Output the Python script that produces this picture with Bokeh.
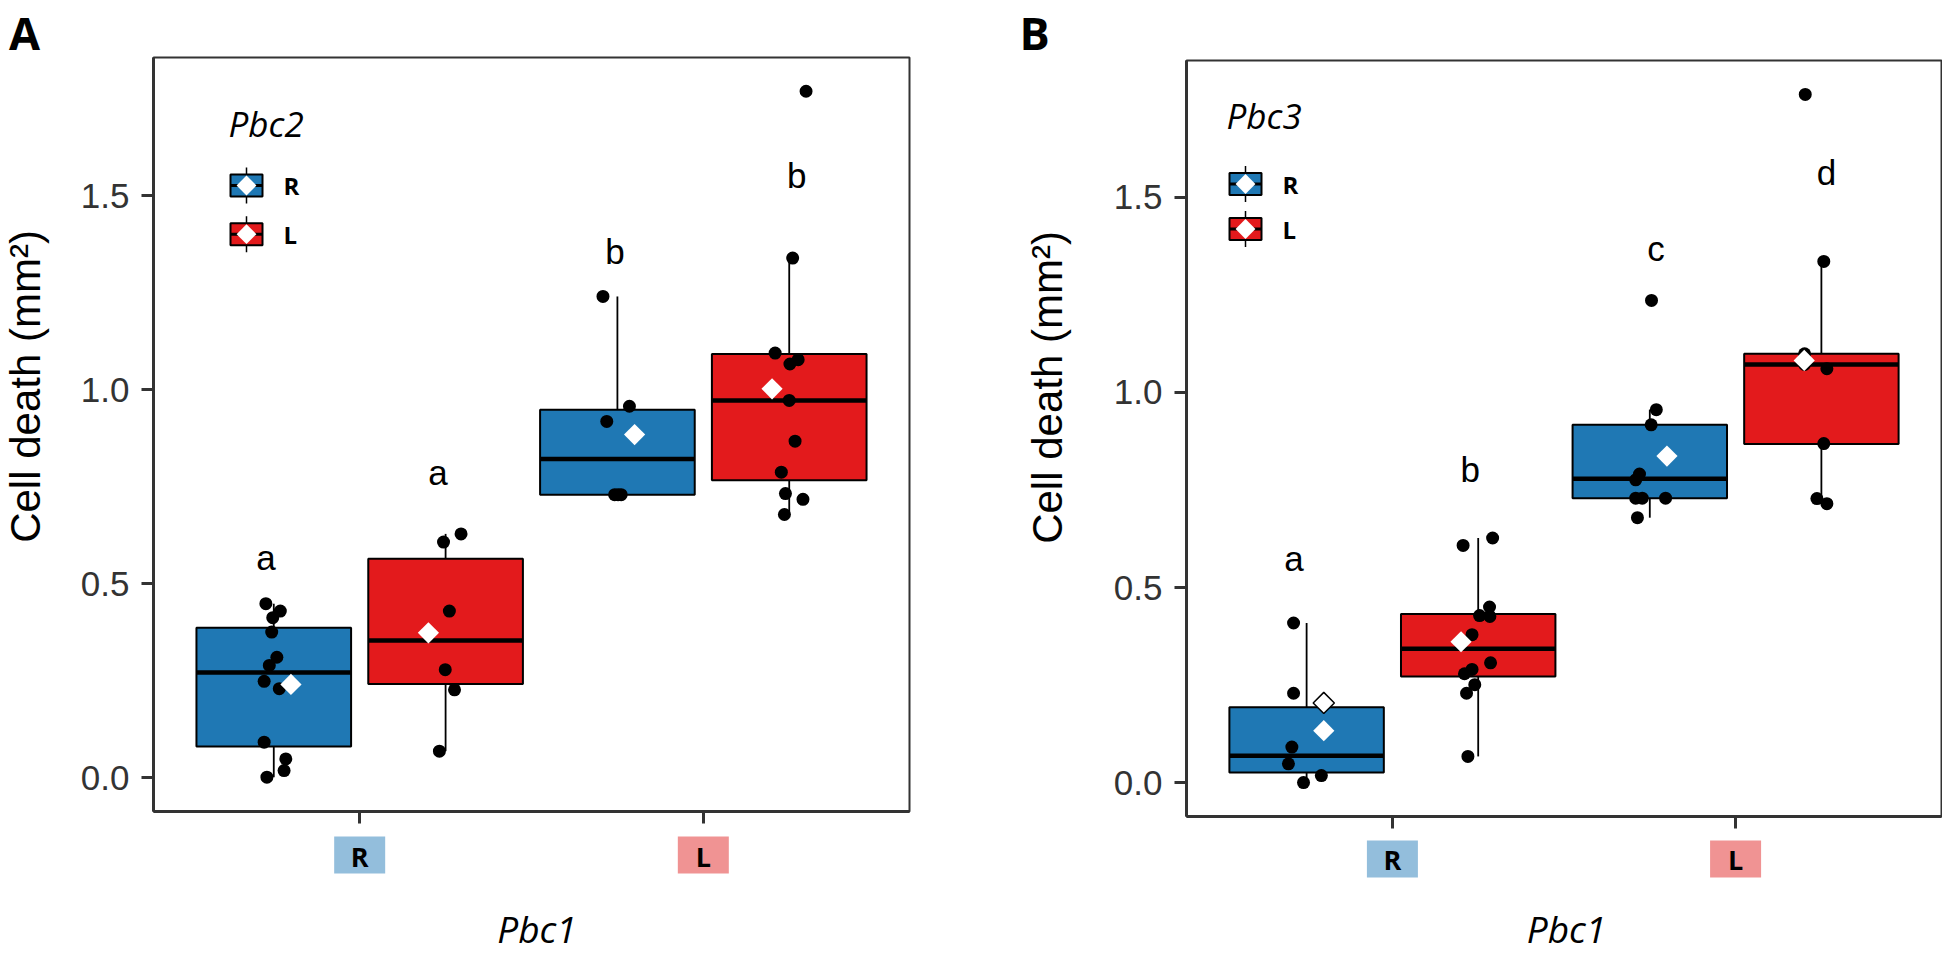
import math
from bokeh.plotting import figure
from bokeh.layouts import row, column
from bokeh.models import Range1d, FixedTicker, PrintfTickFormatter, Label
from bokeh.core.properties import value
from bokeh.embed import file_html
from bokeh.resources import INLINE

# ---------------- data ----------------
pbc1_levels = ["R", "L"]                 # x-axis categories (Pbc1)
box_pbc1 = ["R", "R", "L", "L"]          # box order: Pbc1 level
box_grp = ["R", "L", "R", "L"]           # box order: Pbc2 / Pbc3 level

# Panel A (Pbc2)
A_q1 = [0.080, 0.241, 0.729, 0.766]
A_med = [0.271, 0.353, 0.821, 0.972]
A_q3 = [0.386, 0.564, 0.948, 1.092]
A_lo = [0.001, 0.068, 0.729, 0.678]
A_hi = [0.448, 0.628, 1.240, 1.339]
A_mean = [0.240, 0.373, 0.884, 1.002]
A_pts_RR = [0.448, 0.429, 0.412, 0.375, 0.310, 0.289, 0.248, 0.229, 0.091, 0.048, 0.018, 0.001]
A_pts_RL = [0.628, 0.607, 0.429, 0.278, 0.226, 0.068]
A_pts_LR = [1.240, 0.957, 0.918, 0.729, 0.729, 0.729]
A_pts_LL = [1.769, 1.339, 1.094, 1.077, 1.066, 0.972, 0.867, 0.787, 0.732, 0.717, 0.678]
A_jit_RR = [-0.023, 0.019, -0.003, -0.006, 0.009, -0.013, -0.028, 0.016, -0.028, 0.035, 0.030, -0.020]
A_jit_RL = [0.045, -0.006, 0.011, -0.001, 0.026, -0.018]
A_jit_LR = [-0.042, 0.035, -0.031, -0.008, 0.011, 0.002]
A_jit_LL = [0.049, 0.010, -0.041, 0.026, 0.002, 0.000, 0.017, -0.023, -0.011, 0.040, -0.014]
A_letters = ["a", "a", "b", "b"]
A_letter_off = [-0.273, 0.228, -0.257, 0.272]
A_letter_y = [0.537, 0.755, 1.325, 1.521]

# Panel B (Pbc3)
B_q1 = [0.026, 0.272, 0.729, 0.868]
B_med = [0.069, 0.343, 0.779, 1.072]
B_q3 = [0.193, 0.432, 0.917, 1.099]
B_lo = [0.000, 0.067, 0.679, 0.715]
B_hi = [0.409, 0.627, 0.956, 1.336]
B_mean = [0.133, 0.361, 0.837, 1.082]
B_extra_mean = [0.204, None, None, None]
B_pts_RR = [0.409, 0.229, 0.091, 0.048, 0.018, 0.000]
B_pts_RL = [0.627, 0.608, 0.450, 0.428, 0.426, 0.379, 0.307, 0.290, 0.279, 0.251, 0.229, 0.067]
B_pts_LR = [1.236, 0.956, 0.917, 0.791, 0.776, 0.729, 0.729, 0.729, 0.679]
B_pts_LL = [1.764, 1.336, 1.099, 1.085, 1.072, 1.061, 0.869, 0.728, 0.715]
B_jit_RR = [-0.038, -0.038, -0.043, -0.053, 0.043, -0.009]
B_jit_RL = [0.042, -0.044, 0.033, 0.004, 0.034, -0.018, 0.036, -0.018, -0.040, -0.010, -0.034, -0.030]
B_jit_LR = [0.005, 0.019, 0.004, -0.030, -0.041, -0.041, -0.022, 0.046, -0.036]
B_jit_LL = [-0.047, 0.007, -0.049, -0.049, -0.049, 0.016, 0.007, -0.013, 0.016]
B_letters = ["a", "b", "c", "d"]
B_letter_off = [-0.287, 0.227, -0.232, 0.265]
B_letter_y = [0.544, 0.773, 1.338, 1.533]

y_ticks = [0.0, 0.5, 1.0, 1.5]

# ---------------- style ----------------
FILL = {"R": "#1F78B4", "L": "#E31A1C"}
TICKBOX = {"R": "#93BEDC", "L": "#F09393"}
AX = "#333333"
BOX_DODGE = {"R": -0.25, "L": 0.25}
MEAN_DODGE = {"R": -0.2, "L": 0.2}
BOX_W = 0.45
XR = (0.4, 2.6)
TOTAL_H = 954


def bare(width, height, xr, yr, left=0, right=0):
    p = figure(width=width, height=height, x_range=Range1d(*xr), y_range=Range1d(*yr),
               output_backend="svg", toolbar_location=None, x_axis_type=None,
               y_axis_type=None, min_border=0, min_border_left=left,
               min_border_right=right, min_border_top=0, min_border_bottom=0)
    p.outline_line_color = None
    p.background_fill_color = "white"
    p.border_fill_color = "white"
    return p


def make_panel(letter, legend_title, q1, med, q3, lo, hi, means, extra, pts, jits,
               letters, letter_off, letter_y, L):
    fw = L["main_w"] - L["left"] - L["right"]
    fh = L["frame_h"]
    main_h = L["top"] + fh + L["bottom"]
    strip_h = TOTAL_H - main_h
    yr = L["yr"]
    p = figure(width=L["main_w"], height=main_h, x_range=Range1d(*XR), y_range=Range1d(*yr),
               output_backend="svg", toolbar_location=None,
               min_border_left=L["left"], min_border_right=L["right"],
               min_border_top=L["top"], min_border_bottom=L["bottom"])
    p.xgrid.visible = False
    p.ygrid.visible = False
    p.background_fill_color = "white"
    p.border_fill_color = "white"
    p.outline_line_color = AX
    p.outline_line_width = 2

    for ax in (p.xaxis[0], p.yaxis[0]):
        ax.axis_line_color = AX
        ax.axis_line_width = 3
        ax.major_tick_line_color = AX
        ax.major_tick_line_width = 3
        ax.major_tick_out = 12
        ax.major_tick_in = 0
        ax.minor_tick_out = 0
        ax.minor_tick_in = 0
    xticks = [i + 1 for i in range(len(pbc1_levels))]
    p.xaxis.ticker = FixedTicker(ticks=xticks)
    p.xaxis.major_label_overrides = {t: "" for t in xticks}
    p.xaxis.major_label_standoff = 0
    p.yaxis.ticker = FixedTicker(ticks=y_ticks)
    p.yaxis.formatter = PrintfTickFormatter(format="%.1f")
    p.yaxis.major_label_text_font = "Liberation Sans"
    p.yaxis.major_label_text_font_size = "35px"
    p.yaxis.major_label_text_color = AX
    p.yaxis.major_label_standoff = 12

    xpos = {lvl: i + 1 for i, lvl in enumerate(pbc1_levels)}
    cx = [xpos[a] + BOX_DODGE[g] for a, g in zip(box_pbc1, box_grp)]
    cols = [FILL[g] for g in box_grp]
    left = [c - BOX_W / 2 for c in cx]
    right = [c + BOX_W / 2 for c in cx]

    p.segment(x0=cx, y0=q3, x1=cx, y1=hi, line_color="black", line_width=1.8)
    p.segment(x0=cx, y0=q1, x1=cx, y1=lo, line_color="black", line_width=1.8)
    p.quad(left=left, right=right, bottom=q1, top=q3, fill_color=cols,
           line_color="black", line_width=2)
    p.segment(x0=left, y0=med, x1=right, y1=med, line_color="black", line_width=4.5)

    px, py = [], []
    for c, ys, js in zip(cx, pts, jits):
        for y, j in zip(ys, js):
            px.append(c + j)
            py.append(y)
    p.scatter(px, py, size=13, fill_color="black", line_color=None)

    mx = [xpos[a] + MEAN_DODGE[g] for a, g in zip(box_pbc1, box_grp)]
    ex = [x for x, e in zip(mx, extra) if e is not None]
    ey = [e for e in extra if e is not None]
    if ex:
        p.scatter(ex, ey, marker="square", angle=math.pi / 4, size=15,
                  fill_color="white", line_color="black", line_width=1.5)
    p.scatter(mx, means, marker="square", angle=math.pi / 4, size=15,
              fill_color="white", line_color=None)

    # significance letters: y is the text baseline
    lx = [xpos[a] + o for a, o in zip(box_pbc1, letter_off)]
    p.text(x=lx, y=letter_y, text=letters, text_font=value("Liberation Sans"),
           text_font_size="35px", text_align="center", text_baseline="middle",
           y_offset=-12, text_color="black")

    # helpers: pixel offsets from frame left / top -> data
    def dx2x(dx):
        return XR[0] + dx / fw * (XR[1] - XR[0])

    def dy2y(dy):
        return yr[1] - dy / fh * (yr[1] - yr[0])

    # legend (drawn by hand, ggplot-style keys)
    p.add_layout(Label(x=L["lt_dx"], y=fh - L["lt_dy"], x_units="screen", y_units="screen",
                       text=legend_title, text_font="Open Sans", text_font_style="italic",
                       text_font_size="35px", text_color="black",
                       text_align="left", text_baseline="middle"))
    kx = dx2x(L["key_dx"])
    for g, kdy in zip(["R", "L"], L["key_dy"]):
        ky = dy2y(kdy)
        p.segment(x0=[kx], y0=[dy2y(kdy - 18)], x1=[kx], y1=[dy2y(kdy + 18)],
                  line_color="black", line_width=1.5)
        p.rect(x=[kx], y=[ky], width=32, height=22, width_units="screen",
               height_units="screen", fill_color=FILL[g], line_color="black", line_width=2)
        p.segment(x0=[dx2x(L["key_dx"] - 16)], y0=[ky], x1=[dx2x(L["key_dx"] + 16)], y1=[ky],
                  line_color="black", line_width=3)
        p.scatter([kx], [ky], marker="square", angle=math.pi / 4, size=14,
                  fill_color="white", line_color=None)
        p.add_layout(Label(x=L["kt_dx"], y=fh - kdy, x_units="screen", y_units="screen",
                           text=g, text_font="Open Sans", text_font_style="bold",
                           text_font_size="24px", text_color="black",
                           text_align="left", text_baseline="middle"))

    # bottom strip: coloured x tick labels and x title
    s = bare(L["main_w"], strip_h, XR, (0, strip_h), L["left"], L["right"])
    s.rect(x=xticks, y=[strip_h - L["tb_top"]] * len(xticks), width=51, height=37,
           width_units="screen", height_units="screen",
           fill_color=[TICKBOX[l] for l in pbc1_levels], line_color=None)
    s.text(x=xticks, y=[strip_h - L["tt_top"]] * len(xticks), text=pbc1_levels,
           text_font=value("Open Sans"), text_font_style="bold", text_font_size="27px",
           text_color="black", text_align="center", text_baseline="middle")
    s.text(x=[(XR[0] + XR[1]) / 2 + L["xt_dx"] / fw * (XR[1] - XR[0])],
           y=[strip_h - L["xt_top"]], text=["Pbc1"],
           text_font=value("Open Sans"), text_font_style="italic", text_font_size="37px",
           text_color="black", text_align="center", text_baseline="middle")

    # left strip: panel letter and y-axis title
    lw = L["left_w"]
    ls = bare(lw, TOTAL_H, (0, lw), (0, TOTAL_H))
    ls.text(x=[L["pl_x"]], y=[TOTAL_H - L["pl_top"]], text=[letter],
            text_font=value("Open Sans"), text_font_style="bold", text_font_size="45px",
            text_color="black", text_align="center", text_baseline="middle")
    ls.text(x=[L["yl_x"]], y=[TOTAL_H - L["yl_top"]], text=["Cell death (mm\u00b2)"],
            angle=math.pi / 2, text_font=value("Liberation Sans"), text_font_size="42px",
            text_color="black", text_align="center", text_baseline="middle")

    return row(ls, column(p, s))


LA = dict(left_w=64, main_w=936, left=89, right=91, top=57, frame_h=754, bottom=22,
          yr=(-0.0876, 1.856),
          lt_dx=75, lt_dy=66, key_dx=93, key_dy=[128, 176.7], kt_dx=130,
          tb_top=21.5, tt_top=23, xt_dx=5.5, xt_top=95,
          pl_x=24, pl_top=32, yl_x=24.5, yl_top=386)
LB = dict(left_w=90, main_w=852, left=96, right=1, top=60, frame_h=756, bottom=22,
          yr=(-0.087, 1.851),
          lt_dx=40, lt_dy=55, key_dx=59, key_dy=[123.5, 168.5], kt_dx=96,
          tb_top=20.5, tt_top=21.2, xt_dx=2.5, xt_top=90,
          pl_x=34, pl_top=32, yl_x=47, yl_top=387)

pA = make_panel("A", "Pbc2", A_q1, A_med, A_q3, A_lo, A_hi, A_mean, [None] * 4,
                [A_pts_RR, A_pts_RL, A_pts_LR, A_pts_LL],
                [A_jit_RR, A_jit_RL, A_jit_LR, A_jit_LL],
                A_letters, A_letter_off, A_letter_y, LA)
pB = make_panel("B", "Pbc3", B_q1, B_med, B_q3, B_lo, B_hi, B_mean, B_extra_mean,
                [B_pts_RR, B_pts_RL, B_pts_LR, B_pts_LL],
                [B_jit_RR, B_jit_RL, B_jit_LR, B_jit_LL],
                B_letters, B_letter_off, B_letter_y, LB)

layout = row(pA, pB)
open("out.html", "w").write(file_html(layout, INLINE))
